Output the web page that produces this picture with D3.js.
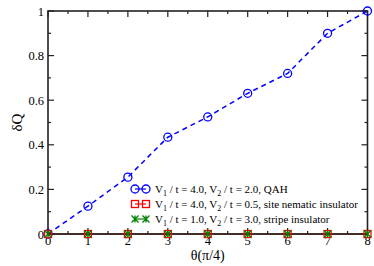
<!DOCTYPE html>
<html>
<head>
<meta charset="utf-8">
<script src="https://cdn.jsdelivr.net/npm/d3@7"></script>
<style>
    body { margin: 0; background: #fff; }
    text { font-family: "Liberation Serif", "DejaVu Serif", serif; }
</style>
</head>
<body>
<div class="chart"></div>
<script>
const theta = [0, 1, 2, 3, 4, 5, 6, 7, 8];
const qah = [0, 0.125, 0.255, 0.434, 0.525, 0.631, 0.72, 0.9, 1.0];
const nematic = [0, 0, 0, 0, 0, 0, 0, 0, 0];
const stripe = [0, 0, 0, 0, 0, 0, 0, 0, 0];
const xTicks = [0, 1, 2, 3, 4, 5, 6, 7, 8];
const yTicks = [0, 0.2, 0.4, 0.6, 0.8, 1];
const legendNames = [
    ["4.0", "2.0", "QAH"],
    ["4.0", "0.5", "site nematic insulator"],
    ["1.0", "3.0", "stripe insulator"]
];

const w = 374,
    h = 266,
    m = {top: 11, right: 6.5, bottom: 32, left: 48};

const svg = d3.select(".chart").append("svg")
    .attr("width", w)
    .attr("height", h);

const xScale = d3.scaleLinear().domain([0, 8]).range([m.left, w - m.right]);
const yScale = d3.scaleLinear().domain([0, 1]).range([h - m.bottom, m.top]);

const minorX = d3.range(0.5, 8, 1);
const minorY = d3.range(0.1, 1, 0.2);

// ticks pointing inward on all four sides
const g = svg.append("g").attr("stroke", "#222").attr("stroke-width", 1.2);
xTicks.forEach(v => {
    g.append("line").attr("x1", xScale(v)).attr("x2", xScale(v)).attr("y1", yScale(0)).attr("y2", yScale(0) - 6);
    g.append("line").attr("x1", xScale(v)).attr("x2", xScale(v)).attr("y1", yScale(1)).attr("y2", yScale(1) + 6);
});
minorX.forEach(v => {
    g.append("line").attr("x1", xScale(v)).attr("x2", xScale(v)).attr("y1", yScale(0)).attr("y2", yScale(0) - 3);
    g.append("line").attr("x1", xScale(v)).attr("x2", xScale(v)).attr("y1", yScale(1)).attr("y2", yScale(1) + 3);
});
yTicks.forEach(v => {
    g.append("line").attr("y1", yScale(v)).attr("y2", yScale(v)).attr("x1", xScale(0)).attr("x2", xScale(0) + 6);
    g.append("line").attr("y1", yScale(v)).attr("y2", yScale(v)).attr("x1", xScale(8)).attr("x2", xScale(8) - 6);
});
minorY.forEach(v => {
    g.append("line").attr("y1", yScale(v)).attr("y2", yScale(v)).attr("x1", xScale(0)).attr("x2", xScale(0) + 3);
    g.append("line").attr("y1", yScale(v)).attr("y2", yScale(v)).attr("x1", xScale(8)).attr("x2", xScale(8) - 3);
});

// tick labels
svg.selectAll(".xl").data(xTicks).enter().append("text")
    .attr("x", d => xScale(d))
    .attr("y", yScale(0) + 10.5)
    .attr("text-anchor", "middle")
    .attr("font-size", 12.5)
    .text(d => d);
svg.selectAll(".yl").data(yTicks).enter().append("text")
    .attr("x", xScale(0) - 4)
    .attr("y", d => yScale(d) + 4.5)
    .attr("text-anchor", "end")
    .attr("font-size", 12.5)
    .text(d => d);

svg.append("text")
    .attr("transform", "translate(22," + ((m.top + h - m.bottom) / 2) + ") rotate(-90)")
    .attr("text-anchor", "middle")
    .attr("font-size", 15)
    .text("δQ");
svg.append("text")
    .attr("x", (m.left + w - m.right) / 2)
    .attr("y", 260)
    .attr("text-anchor", "middle")
    .attr("font-size", 14)
    .text("θ(π/4)");

// series
const line = d3.line().x((d, i) => xScale(theta[i])).y(d => yScale(d));

svg.append("path").datum(stripe).attr("d", line)
    .attr("fill", "none").attr("stroke", "green").attr("stroke-width", 1);
svg.append("path").datum(nematic).attr("d", line)
    .attr("fill", "none").attr("stroke", "red").attr("stroke-width", 1);
svg.append("path").datum(qah).attr("d", line)
    .attr("fill", "none").attr("stroke", "blue").attr("stroke-width", 1.5)
    .attr("stroke-dasharray", "5,4");

// frame
svg.append("rect")
    .attr("x", xScale(0)).attr("y", yScale(1))
    .attr("width", xScale(8) - xScale(0)).attr("height", yScale(0) - yScale(1))
    .attr("fill", "none").attr("stroke", "#222").attr("stroke-width", 1.6);

function circle(sel, x, y) {
    sel.append("circle").attr("cx", x).attr("cy", y).attr("r", 4)
        .attr("fill", "none").attr("stroke", "blue").attr("stroke-width", 1.3);
}
function square(sel, x, y) {
    sel.append("rect").attr("x", x - 3.5).attr("y", y - 3.5).attr("width", 7).attr("height", 7)
        .attr("fill", "none").attr("stroke", "red").attr("stroke-width", 1.3);
}
function cross(sel, x, y) {
    const s = 3.5;
    sel.append("path")
        .attr("d", `M${x - s},${y - s}L${x + s},${y + s}M${x - s},${y + s}L${x + s},${y - s}M${x},${y - s}L${x},${y + s}`)
        .attr("stroke", "green").attr("stroke-width", 1.3);
}

const mk = svg.append("g");
qah.forEach((d, i) => circle(mk, xScale(theta[i]), yScale(d)));
nematic.forEach((d, i) => square(mk, xScale(theta[i]), yScale(d)));
stripe.forEach((d, i) => cross(mk, xScale(theta[i]), yScale(d)));

// legend
const lg = svg.append("g");
const markers = [circle, square, cross];
const colors = ["blue", "red", "green"];
legendNames.forEach((n, i) => {
    const y = 189 + i * 15;
    lg.append("line").attr("x1", 135).attr("x2", 146).attr("y1", y).attr("y2", y)
        .attr("stroke", colors[i]).attr("stroke-width", 1.2);
    markers[i](lg, 135, y);
    markers[i](lg, 146, y);
    const t = lg.append("text").attr("x", 155).attr("y", y + 3.5).attr("font-size", 11);
    t.append("tspan").text("V");
    t.append("tspan").attr("font-size", 8).attr("dy", 3).text("1");
    t.append("tspan").attr("dy", -3).text(" / t = " + n[0] + ", V");
    t.append("tspan").attr("font-size", 8).attr("dy", 3).text("2");
    t.append("tspan").attr("dy", -3).text(" / t = " + n[1] + ", " + n[2]);
});
</script>
</body>
</html>
